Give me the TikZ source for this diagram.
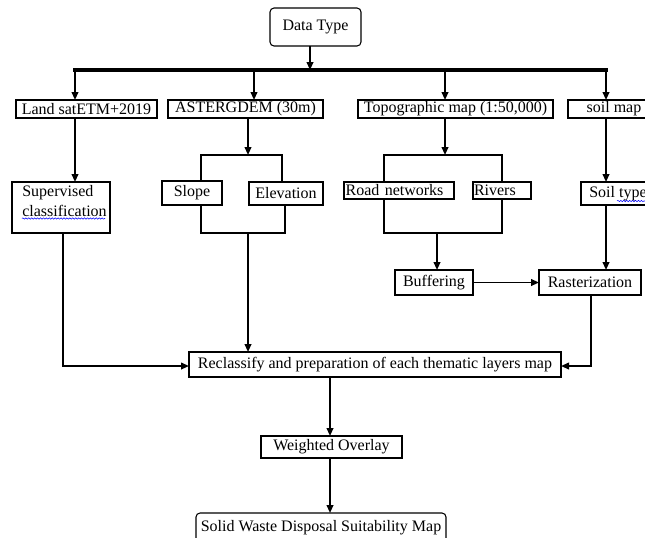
\documentclass[tikz,border=0pt]{standalone}
\usepackage{fontspec}
\setmainfont{Liberation Serif}
\usepackage{tikz}
\usetikzlibrary{arrows.meta, decorations.pathmorphing}

\begin{document}
\begin{tikzpicture}[
        x=0.75pt, y=-0.75pt,
        box/.style={rectangle, draw, line width=0.8pt, inner sep=0pt, outer sep=0pt,
                    minimum height=13.5pt, align=center,
                    font=\fontsize{12}{14.5}\selectfont},
        rbox/.style={box, rounded corners=3pt},
        link/.style={line width=1.3pt},
        arrow/.style={link, -{Triangle[length=6pt, width=5pt]}},
        bus/.style={line width=2.4pt, line cap=rect},
        spell/.style={blue, line width=0.4pt, decorate,
                      decoration={snake, amplitude=0.5pt, segment length=2.2pt}}
      ]
      \useasboundingbox (0,0) rectangle (645,537);

      \node[rbox, minimum width=68.25pt, minimum height=28.5pt] (dtype) at (315.5,27) {Data Type};

      \node[box, minimum width=105.75pt] (land)  at (86.5,109)  {Land satETM+2019};
      \node[box, minimum width=116.25pt] (aster) at (245.5,109) {ASTERGDEM (30m)};
      \node[box, minimum width=146.25pt] (topo)  at (455.5,109) {Topographic map (1:50,000)};
      \node[box, minimum width=69pt]     (soilm) at (614,109)   {soil map};

      \node[box, minimum width=73.5pt, minimum height=38.25pt] (sup) at (61,207.5) {};
      \node[anchor=north west, align=left, inner sep=0pt, font=\fontsize{12}{15}\selectfont]
            (suptxt) at ([xshift=7.5pt, yshift=-2.5pt]sup.north west) {Supervised\\classification};
      \node[box, minimum width=45pt, minimum height=18pt]      (slope)  at (192,193)   {Slope};
      \node[box, minimum width=55.5pt, minimum height=17.25pt] (elev)   at (286,193.5) {Elevation};
      \node[box, minimum width=82.5pt, minimum height=12.75pt, text width=80pt, align=left] (road) at (399,190.5) {Road networks};
      \node[box, minimum width=43.5pt, minimum height=12.75pt, text width=42pt, align=left] (rivers) at (502,190.5) {Rivers};
      \node[box, minimum width=55.5pt, minimum height=17.25pt] (soilt)  at (618,193.5) {Soil type};

      \node[box, minimum width=58.5pt, minimum height=18.75pt] (buff) at (434,282.5) {Buffering};
      \node[box, minimum width=76.5pt, minimum height=18.75pt] (rast) at (590,282.5) {Rasterization};

      \node[box, minimum width=279pt, minimum height=18.75pt] (recl) at (375,364.5) {Reclassify and preparation of each thematic layers map};
      \node[box, minimum width=105.75pt, minimum height=16.5pt] (wovl) at (331.5,447) {Weighted Overlay};
      \node[rbox, minimum width=187.5pt, minimum height=22.5pt] (solid) at (321,528) {Solid Waste Disposal Suitability Map};

      \draw[spell] (22,218.5) -- (105,218.5);
      \draw[spell] (617,201) -- (645,201);

      \coordinate (dT) at (310,70);
      \draw[arrow] (dtype.south -| dT) -- (dT);
      \coordinate (busL) at (75,70);
      \coordinate (busR) at (606,70);
      \draw[bus] (busL) -- (busR);
      \foreach \x/\n in {75/land, 254/aster, 445/topo, 606/soilm} {
        \coordinate (d\n) at (\x,70);
        \draw[arrow] (d\n) -- (d\n |- \n.north);
      }

      \draw[arrow] (dland |- land.south) -- (dland |- sup.north);

      \coordinate (aT) at (248,155);
      \coordinate (aL) at (201,155);
      \coordinate (aR) at (282,155);
      \coordinate (aBL) at (201,233);
      \coordinate (aBR) at (285,233);
      \coordinate (aB) at (248,233);
      \draw[arrow] (aster.south -| aT) -- (aT);
      \draw[link] (slope.north -| aL) -- (aL) -- (aR) -- (elev.north -| aR);
      \draw[link] (slope.south -| aBL) -- (aBL) -- (aBR) -- (elev.south -| aBR);
      \draw[arrow] (aB) -- (aB |- recl.north);

      \coordinate (tT) at (445,155);
      \coordinate (tL) at (384,155);
      \coordinate (tR) at (502,155);
      \coordinate (tBL) at (384,233);
      \coordinate (tBR) at (502,233);
      \coordinate (tB) at (437,233);
      \draw[arrow] (topo.south -| tT) -- (tT);
      \draw[link] (road.north -| tL) -- (tL) -- (tR) -- (rivers.north -| tR);
      \draw[link] (road.south -| tBL) -- (tBL) -- (tBR) -- (rivers.south -| tBR);
      \draw[arrow] (tB) -- (tB |- buff.north);

      \draw[arrow] (dsoilm |- soilm.south) -- (dsoilm |- soilt.north);
      \draw[arrow] (dsoilm |- soilt.south) -- (dsoilm |- rast.north);
      \draw[arrow] (buff.east) -- (rast.west);

      \coordinate (sC) at (63,366);
      \coordinate (rC) at (591,366);
      \draw[arrow] (sup.south -| sC) -- (sC) -- (sC -| recl.west);
      \draw[arrow] (rast.south -| rC) -- (rC) -- (rC -| recl.east);

      \coordinate (wC) at (330,400);
      \draw[arrow] (recl.south -| wC) -- (wC |- wovl.north);
      \draw[arrow] (wovl.south -| wC) -- (wC |- solid.north);
    \end{tikzpicture}
\end{document}
